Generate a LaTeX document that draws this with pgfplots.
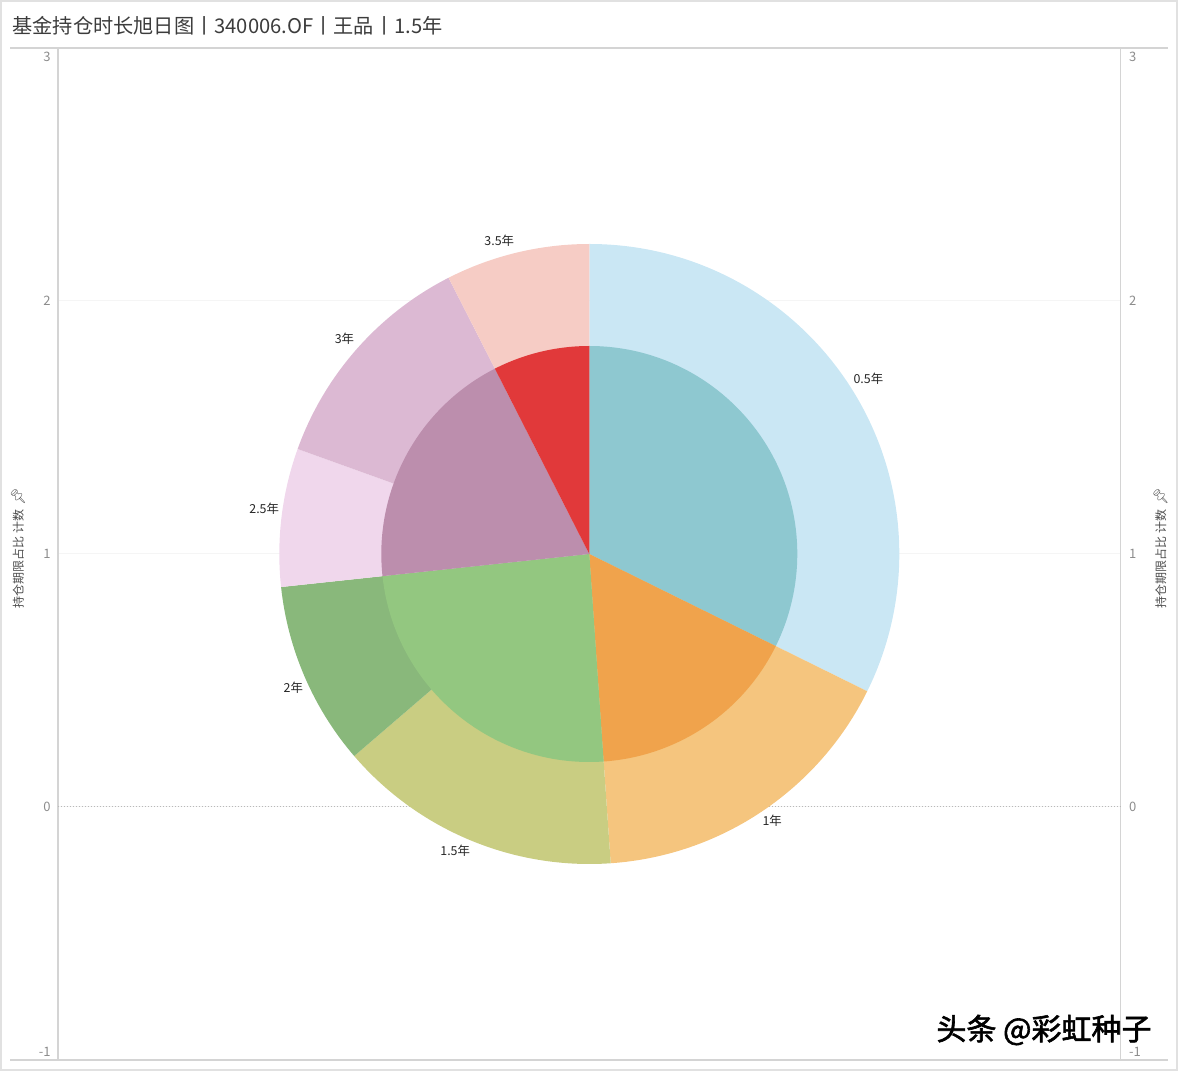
\documentclass[border=0pt]{standalone}
\usepackage{fontspec}
\setmainfont{Noto Sans CJK SC}
\newfontfamily\emoji{Noto Emoji}
\newfontfamily\wmfont{Noto Sans CJK SC}[FakeBold=2]
\usepackage{pgfplots}
\usepackage{pgfplotstable}
\pgfplotsset{compat=1.18}

% outer ring colours
\definecolor{c05}{HTML}{CAE7F4}
\definecolor{c10}{HTML}{F5C57E}
\definecolor{c15}{HTML}{C9CD82}
\definecolor{c20}{HTML}{89B87B}
\definecolor{c25}{HTML}{F0D7EC}
\definecolor{c30}{HTML}{DCB9D3}
\definecolor{c35}{HTML}{F6CCC5}
% inner ring colours
\definecolor{i05}{HTML}{8EC8D0}
\definecolor{i10}{HTML}{F0A34C}
\definecolor{i20}{HTML}{93C780}
\definecolor{i30}{HTML}{BC8EAD}
\definecolor{i35}{HTML}{E1393A}
\definecolor{tickgray}{HTML}{8C8C8C}
\definecolor{linegray}{HTML}{D4D4D4}
\definecolor{titlegray}{HTML}{3C3C3C}
\definecolor{pingray}{HTML}{5A5A5A}

% outer ring: holding period, share of count (%), label position
\pgfplotstableread{
label value color lx ly
0.5年 32.3 c05 1.103 1.694
1年 16.6 c10 0.723 -0.053
1.5年 14.8 c15 -0.530 -0.172
2年 9.6 c20 -1.170 0.472
2.5年 7.2 c25 -1.285 1.180
3年 12.0 c30 -0.968 1.852
3.5年 7.5 c35 -0.356 2.239
}\outerring

% inner ring: grouped periods
\pgfplotstableread{
group value color
0.5 32.3 i05
1 16.6 i10
1.5to2 24.4 i20
2.5to3 19.2 i30
3.5 7.5 i35
}\innerring

\newcommand\seglabelfont{\fontsize{6.2}{7}\selectfont}

% fills one ring (full sectors from the centre), clockwise from 12 o'clock
\newcommand\drawring[2]{%
  \pgfplotstablegetrowsof{#1}%
  \pgfmathtruncatemacro\nrows{\pgfplotsretval-1}%
  \gdef\cum{90}%
  \pgfplotsforeachungrouped \i in {0,...,\nrows}{%
    \pgfplotstablegetelem{\i}{value}\of{#1}\let\segval\pgfplotsretval
    \pgfplotstablegetelem{\i}{color}\of{#1}\let\segcol\pgfplotsretval
    \pgfmathsetmacro\angA{\cum}%
    \pgfmathsetmacro\angB{\cum-3.6*\segval}%
    \edef\doit{\noexpand\fill[\segcol] (axis cs:0,1) -- ++(\angA:#2)
      arc[start angle=\angA, end angle=\angB, radius=#2] -- cycle;}%
    \doit
    \global\let\cum\angB
  }%
}

\pgfplotsset{
  ringaxis/.style={
    at={(0,0)}, anchor=south west,
    x=126.5pt, y=126.5pt,
    xmin=-2.1, xmax=2.1, ymin=-1, ymax=3,
    axis line style={draw=none},
    xtick=\empty,
    ytick={-1,0,1,2,3},
    major tick length=0pt,
    /pgf/number format/assume math mode=true,
    yticklabel={\ifnum\ticknum=0 \raisebox{4pt}[\height][\depth]{\pgfmathprintnumber{\tick}}\else\ifnum\ticknum=4 \raisebox{-4.5pt}[\height][\depth]{\pgfmathprintnumber{\tick}}\else\pgfmathprintnumber{\tick}\fi\fi},
    yticklabel style={font=\fontsize{6.5}{7}\selectfont, text=tickgray, inner sep=0pt},
    clip=false,
  },
}

\begin{document}
\begin{tikzpicture}
\useasboundingbox (-29pt,-5.5pt) rectangle (560pt,530pt);
\draw[linegray!70, line width=0.8pt] (-28.6pt,-5.1pt) rectangle (559.6pt,529.6pt);

\begin{axis}[
  ringaxis,
  yticklabel style={anchor=east, xshift=-3.5pt},
  ymajorgrids,
  grid style={gray!8, line width=0.5pt},
  ylabel={持仓期限占比 计数\hspace{2pt}{\emoji\fontsize{7}{7}\selectfont\color{pingray}📌}},
  every axis y label/.style={at={(axis description cs:0,0.5)}, rotate=90,
    anchor=center, yshift=20pt, xshift=3pt, font=\fontsize{6}{7}\selectfont, text=black!70},
]
% frame lines
\draw[linegray, line width=0.6pt] (axis cs:-2.1,-1) -- (axis cs:-2.1,3);
\draw[linegray, line width=0.6pt] (axis cs:2.1,-1) -- (axis cs:2.1,3);
\draw[linegray, line width=0.6pt] (axis cs:-2.289,3) -- (axis cs:2.289,3);
\draw[linegray, line width=0.6pt] (axis cs:-2.289,-1) -- (axis cs:2.289,-1);
\draw[gray!55, densely dotted, line width=0.5pt] (axis cs:-2.1,0) -- (axis cs:2.1,0);

\drawring{\outerring}{155pt}
\drawring{\innerring}{104pt}

\pgfplotsforeachungrouped \i in {0,...,6}{%
  \pgfplotstablegetelem{\i}{label}\of\outerring\let\lab\pgfplotsretval
  \pgfplotstablegetelem{\i}{lx}\of\outerring\let\lx\pgfplotsretval
  \pgfplotstablegetelem{\i}{ly}\of\outerring\let\ly\pgfplotsretval
  \edef\doit{\noexpand\node[font=\noexpand\seglabelfont, text=black!85]
    at (axis cs:\lx,\ly) {\lab};}%
  \doit
}
\end{axis}

\begin{axis}[
  ringaxis,
  yticklabel pos=right,
  yticklabel style={anchor=west, xshift=4pt},
  ylabel={持仓期限占比 计数\hspace{2pt}{\emoji\fontsize{7}{7}\selectfont\color{pingray}📌}},
  every axis y label/.style={at={(axis description cs:1,0.5)}, rotate=90,
    anchor=center, yshift=-20pt, xshift=3pt, font=\fontsize{6}{7}\selectfont, text=black!70},
]
\addplot[draw=none] coordinates {(0,1)};
\end{axis}

\node[anchor=west, inner sep=0pt, font=\fontsize{10.1}{12}\selectfont, text=titlegray]
  at (-23pt,517pt) {基金持仓时长旭日图丨340006.OF丨王品丨1.5年};
\node[inner sep=0pt, font=\wmfont\fontsize{15}{18}\selectfont] at (493pt,15pt) {头条 @彩虹种子};
\end{tikzpicture}
\end{document}
